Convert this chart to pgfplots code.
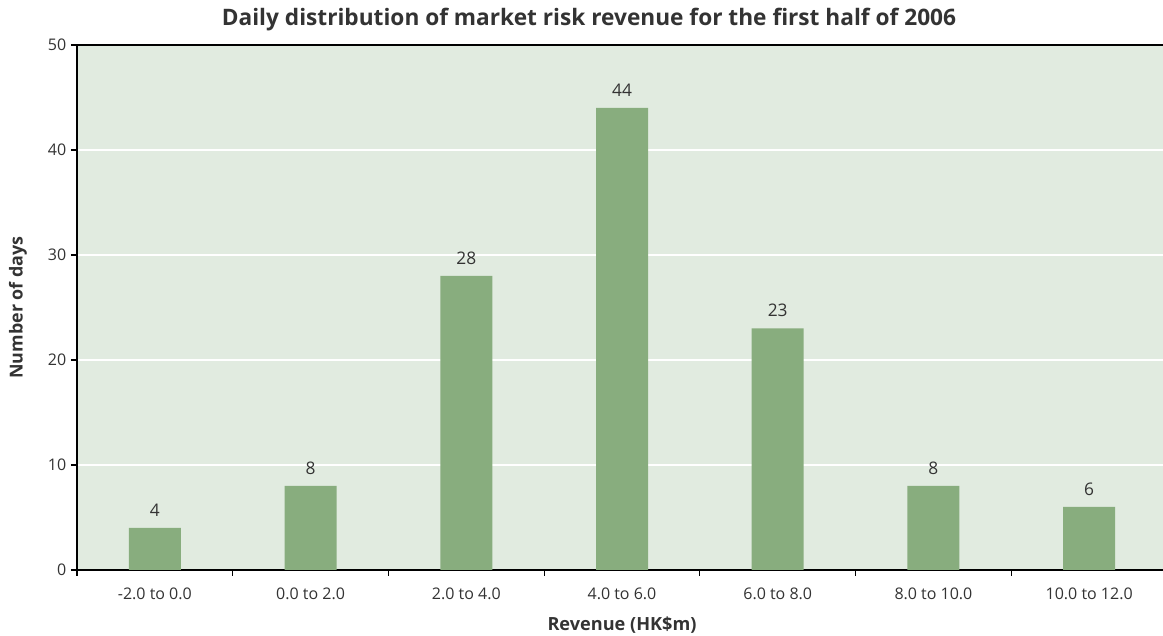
\documentclass[border=0pt]{standalone}
\usepackage{fontspec}
\setmainfont{Open Sans}
\usepackage{pgfplots}
\pgfplotsset{compat=1.18}
\definecolor{bg}{HTML}{E1EBE0}
\definecolor{barc}{HTML}{88AD7E}
\definecolor{txt}{HTML}{333333}
\begin{document}
\begin{tikzpicture}
\begin{axis}[name=ax, scale only axis, width=817.5pt, height=393.75pt,
 xmin=-0.5, xmax=6.5, ymin=0, ymax=50,
 axis x line*=box, axis y line*=left,
 axis line style={black, line width=1pt},
 axis background/.style={fill=bg},
 ybar, bar width=39pt,
 ytick={0,10,...,50}, ymajorgrids, grid style={white, line width=0.8pt},
 xtick={-0.5,0.5,...,6.5}, xticklabels={,,,,,,,,},
 extra x ticks={0,1,2,3,4,5,6},
 extra x tick labels={-2.0 to 0.0,0.0 to 2.0,2.0 to 4.0,4.0 to 6.0,6.0 to 8.0,8.0 to 10.0,10.0 to 12.0},
 extra x tick style={major tick length=0pt, xticklabel style={yshift=-10pt}},
 tick align=outside, tick pos=left, major tick length=4.5pt,
 tick style={black, line width=0.8pt},
 ticklabel style={font=\fontsize{12}{14}\selectfont, color=txt},
 /pgf/number format/assume math mode=true,
 nodes near coords,
 every node near coord/.append style={font=\fontsize{13}{15}\selectfont, color=txt, yshift=5pt},
]
\addplot[fill=barc, draw=none] coordinates {(0,4) (1,8) (2,28) (3,44) (4,23) (5,8) (6,6)};
\end{axis}
\node[font=\bfseries\fontsize{17}{20}\selectfont, color=txt] at ([xshift=384pt,yshift=19pt]ax.north west) {Daily distribution of market risk revenue for the first half of 2006};
\node[font=\bfseries\fontsize{13.4}{16}\selectfont, color=txt, rotate=90] at ([xshift=-44.25pt]ax.west) {Number of days};
\node[font=\bfseries\fontsize{13.6}{16}\selectfont, color=txt] at ([yshift=-41.25pt]ax.south) {Revenue (HK\$m)};
\pgfresetboundingbox
\path ([xshift=-57.75pt,yshift=-49.5pt]ax.south west) rectangle ([xshift=-3pt,yshift=33.75pt]ax.north east);
\end{tikzpicture}
\end{document}
